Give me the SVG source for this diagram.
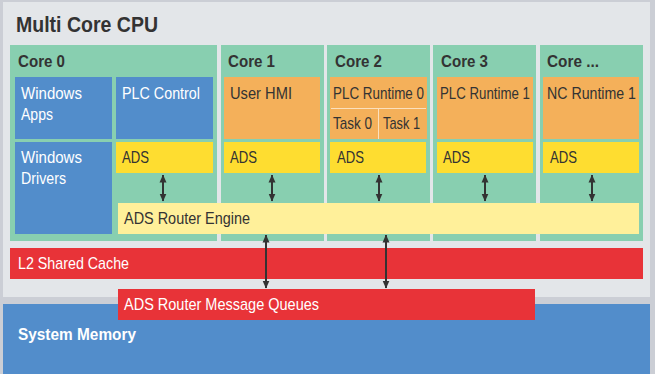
<svg xmlns="http://www.w3.org/2000/svg" width="655" height="374" viewBox="0 0 655 374">
<defs>
<marker id="ah" viewBox="0 0 8 8" refX="7.5" refY="4" markerWidth="8" markerHeight="8" markerUnits="userSpaceOnUse" orient="auto-start-reverse">
<path d="M0,0.5 L8,4 L0,7.5 Z" fill="#333333"/>
</marker>
<style>
text{font-family:"Liberation Sans",Arial,sans-serif;}
.t{font-size:22px;font-weight:bold;fill:#333333;}
.c{font-size:16.5px;font-weight:bold;fill:#333333;}
.w{font-size:17px;fill:#ffffff;}
.d{font-size:17px;fill:#333333;}
.core{fill:#88cfb0;}
.blue{fill:#528dcb;}
.orange{fill:#f4b05a;}
.ads{fill:#fedd30;}
.red{fill:#e83338;}
.arr{stroke:#333333;stroke-width:2;fill:none;marker-start:url(#ah);marker-end:url(#ah);}
</style>
</defs>
<rect x="0" y="0" width="655" height="374" fill="#cbced5"/>
<g id="cpu">
<rect x="3" y="2" width="647" height="295" fill="#e3e6e9"/>
<text class="t" x="16" y="32" textLength="142" lengthAdjust="spacingAndGlyphs">Multi Core CPU</text>
</g>
<g id="system-memory">
<rect x="3" y="304" width="647" height="70" class="blue"/>
<text class="w" x="18" y="340" font-weight="bold" textLength="118" lengthAdjust="spacingAndGlyphs">System Memory</text>
</g>
<g id="core0">
<rect x="10" y="45" width="207" height="196" class="core"/>
<text class="c" x="18" y="67" textLength="47" lengthAdjust="spacingAndGlyphs">Core 0</text>
</g>
<g id="core1">
<rect x="221" y="45" width="103" height="196" class="core"/>
<text class="c" x="228" y="67" textLength="47" lengthAdjust="spacingAndGlyphs">Core 1</text>
</g>
<g id="core2">
<rect x="327" y="45" width="103" height="196" class="core"/>
<text class="c" x="335" y="67" textLength="47" lengthAdjust="spacingAndGlyphs">Core 2</text>
</g>
<g id="core3">
<rect x="433" y="45" width="103" height="196" class="core"/>
<text class="c" x="441" y="67" textLength="47" lengthAdjust="spacingAndGlyphs">Core 3</text>
</g>
<g id="core-n">
<rect x="540" y="45" width="103" height="196" class="core"/>
<text class="c" x="547" y="67" textLength="52" lengthAdjust="spacingAndGlyphs">Core ...</text>
</g>
<g id="windows-apps">
<rect x="15" y="77" width="97" height="62" class="blue"/>
<text class="w" x="21" y="99" textLength="61" lengthAdjust="spacingAndGlyphs">Windows</text>
<text class="w" x="21" y="120" textLength="32" lengthAdjust="spacingAndGlyphs">Apps</text>
</g>
<g id="windows-drivers">
<rect x="15" y="142" width="97" height="92" class="blue"/>
<text class="w" x="21" y="163" textLength="61" lengthAdjust="spacingAndGlyphs">Windows</text>
<text class="w" x="21" y="184" textLength="45" lengthAdjust="spacingAndGlyphs">Drivers</text>
</g>
<g id="plc-control">
<rect x="116" y="77" width="97" height="62" class="blue"/>
<text class="w" x="122" y="99" textLength="78" lengthAdjust="spacingAndGlyphs">PLC Control</text>
</g>
<g id="ads0">
<rect x="116" y="142" width="97" height="31" class="ads"/>
<text class="d" x="122" y="163" textLength="27" lengthAdjust="spacingAndGlyphs">ADS</text>
</g>
<g id="user-hmi">
<rect x="224" y="77" width="96" height="62" class="orange"/>
<text class="d" x="230" y="99" textLength="62" lengthAdjust="spacingAndGlyphs">User HMI</text>
</g>
<g id="ads1">
<rect x="224" y="142" width="96" height="31" class="ads"/>
<text class="d" x="230" y="163" textLength="27" lengthAdjust="spacingAndGlyphs">ADS</text>
</g>
<g id="plc-runtime-0">
<rect x="330" y="77" width="97" height="62" class="orange"/>
<line x1="331" y1="108.5" x2="426" y2="108.5" stroke="#fbe0bd" stroke-width="1"/>
<line x1="378.5" y1="109" x2="378.5" y2="139" stroke="#fbe0bd" stroke-width="1"/>
<text class="d" x="333" y="99" textLength="91" lengthAdjust="spacingAndGlyphs">PLC Runtime 0</text>
<text class="d" x="333" y="129" textLength="39" lengthAdjust="spacingAndGlyphs">Task 0</text>
<text class="d" x="383" y="129" textLength="37" lengthAdjust="spacingAndGlyphs">Task 1</text>
</g>
<g id="ads2">
<rect x="330" y="142" width="96" height="31" class="ads"/>
<text class="d" x="337" y="163" textLength="27" lengthAdjust="spacingAndGlyphs">ADS</text>
</g>
<g id="plc-runtime-1">
<rect x="437" y="77" width="96" height="62" class="orange"/>
<text class="d" x="440" y="99" textLength="90" lengthAdjust="spacingAndGlyphs">PLC Runtime 1</text>
</g>
<g id="ads3">
<rect x="437" y="142" width="96" height="31" class="ads"/>
<text class="d" x="443" y="163" textLength="27" lengthAdjust="spacingAndGlyphs">ADS</text>
</g>
<g id="nc-runtime-1">
<rect x="543" y="77" width="96" height="62" class="orange"/>
<text class="d" x="547" y="99" textLength="89" lengthAdjust="spacingAndGlyphs">NC Runtime 1</text>
</g>
<g id="ads4">
<rect x="543" y="142" width="96" height="31" class="ads"/>
<text class="d" x="550" y="163" textLength="27" lengthAdjust="spacingAndGlyphs">ADS</text>
</g>
<g id="router-engine">
<rect x="118" y="203" width="521" height="31" fill="#fff09a"/>
<text class="d" x="124" y="224" textLength="126" lengthAdjust="spacingAndGlyphs">ADS Router Engine</text>
</g>
<g id="l2-cache">
<rect x="10" y="248" width="633" height="31" class="red"/>
<text class="w" x="18" y="269" textLength="111" lengthAdjust="spacingAndGlyphs">L2 Shared Cache</text>
</g>
<g id="message-queues">
<rect x="118" y="289" width="417" height="31" class="red"/>
<text class="w" x="124" y="310" textLength="195" lengthAdjust="spacingAndGlyphs">ADS Router Message Queues</text>
</g>
<g id="connectors">
<line class="arr" x1="163" y1="175" x2="163" y2="201"/>
<line class="arr" x1="272" y1="175" x2="272" y2="201"/>
<line class="arr" x1="379" y1="175" x2="379" y2="201"/>
<line class="arr" x1="485" y1="175" x2="485" y2="201"/>
<line class="arr" x1="592" y1="175" x2="592" y2="201"/>
<line class="arr" x1="266" y1="235" x2="266" y2="288"/>
<line class="arr" x1="386" y1="235" x2="386" y2="288"/>
</g>
</svg>
